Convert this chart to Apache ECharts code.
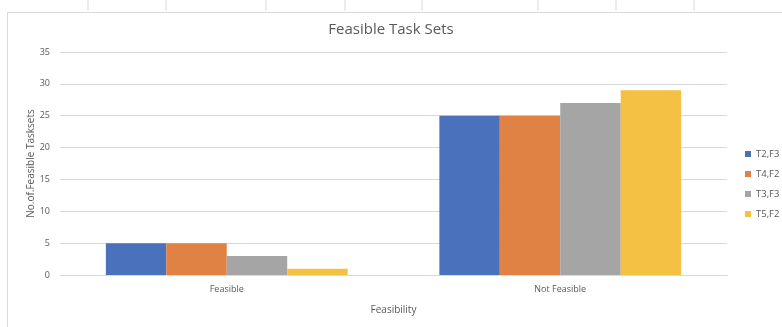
<!DOCTYPE html>
<html>
<head>
<meta charset="utf-8">
<script src="https://cdn.jsdelivr.net/npm/echarts@6/dist/echarts.min.js"></script>
<style>
    html, body { margin: 0; padding: 0; background: #fff; }
    #chart { width: 782px; height: 327px; }
</style>
</head>
<body>
<div id="chart"></div>
<script>
const categories = ['Feasible', 'Not Feasible'];
const seriesNames = ['T2,F3', 'T4,F2', 'T3,F3', 'T5,F2'];
const t2f3 = [5, 25];
const t4f2 = [5, 25];
const t3f3 = [3, 27];
const t5f2 = [1, 29];
const colors = ['#4a72bc', '#e08244', '#a5a5a5', '#f5c144'];

const chart = echarts.init(document.getElementById('chart'));
const values = [t2f3, t4f2, t3f3, t5f2];
const fontFamily = '"Open Sans", "Liberation Sans", sans-serif';

// spreadsheet column separators peeking above the chart frame
const colLines = [88, 166, 266, 345, 422, 538, 616, 694].map(x => ({
    type: 'line',
    shape: { x1: x, y1: 0, x2: x, y2: 11 },
    style: { stroke: '#d9d9d9', lineWidth: 1 },
    silent: true
}));

const option = {
    animation: false,
    color: colors,
    title: {
        text: 'Feasible Task Sets',
        left: 'center',
        top: 17,
        textStyle: { color: '#595959', fontSize: 15, fontWeight: 'normal', fontFamily }
    },
    graphic: colLines.concat([{
        type: 'polyline',
        shape: { points: [[7.5, 327], [7.5, 12.5], [782, 12.5]] },
        style: { stroke: '#d9d9d9', lineWidth: 1, fill: null },
        silent: true
    }]),
    legend: {
        orient: 'vertical',
        left: 740,
        top: 144,
        itemWidth: 6,
        itemHeight: 6,
        itemGap: 10,
        icon: 'rect',
        textStyle: { color: '#595959', fontSize: 9.5, fontFamily },
        data: seriesNames
    },
    grid: { left: 60, right: 55, top: 52, bottom: 52, containLabel: false },
    xAxis: {
        type: 'category',
        data: categories,
        name: 'Feasibility',
        nameLocation: 'middle',
        nameGap: 30,
        nameTextStyle: { color: '#595959', fontSize: 10, fontFamily },
        axisLine: { lineStyle: { color: '#d9d9d9' } },
        axisTick: { show: false },
        axisLabel: { color: '#595959', fontSize: 9, margin: 10, fontFamily }
    },
    yAxis: {
        type: 'value',
        min: 0,
        max: 35,
        interval: 5,
        name: 'No.of.Feasible Tasksets',
        nameLocation: 'middle',
        nameGap: 24,
        nameMoveOverlap: false,
        nameTextStyle: { color: '#595959', fontSize: 10, fontFamily },
        axisLine: { show: false },
        axisTick: { show: false },
        axisLabel: { color: '#595959', fontSize: 9, margin: 10, fontFamily },
        splitLine: { lineStyle: { color: '#d9d9d9' } }
    },
    series: seriesNames.map((name, i) => ({
        name,
        type: 'bar',
        data: values[i],
        barGap: '0%',
        barCategoryGap: '27.5%'
    }))
};
chart.setOption(option);
</script>
</body>
</html>
